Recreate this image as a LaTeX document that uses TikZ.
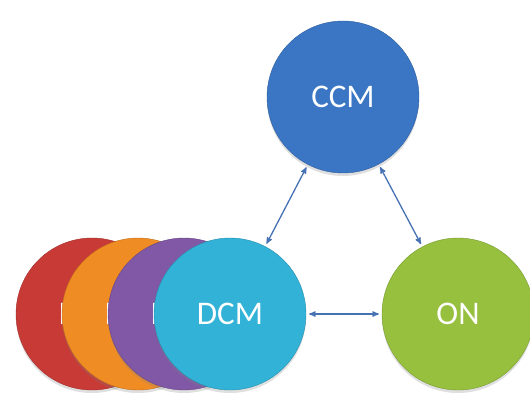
\documentclass[tikz,border=0pt]{standalone}
\usepackage{fontspec}
\setmainfont{Carlito}
\usepackage{tikz}
\usetikzlibrary{arrows,shapes,shadows}
\definecolor{cmblue}{RGB}{58,118,196}
\definecolor{cmcyan}{RGB}{50,178,214}
\definecolor{cmgreen}{RGB}{150,192,62}
\definecolor{cmred}{RGB}{200,58,54}
\definecolor{cmorange}{RGB}{240,140,36}
\definecolor{cmpurple}{RGB}{128,88,166}
\definecolor{cmline}{RGB}{70,114,180}
\tikzstyle{module} = [circle, minimum size=152pt, inner sep=0pt, text=white,
  font=\fontsize{33}{36}\selectfont,
  drop shadow={shadow xshift=0pt, shadow yshift=-3pt, opacity=0.25}]
\tikzstyle{link} = [line width=1.3pt,<->,>=stealth',color=cmline,shorten <=3pt,shorten >=3pt]

\begin{document}
\begin{tikzpicture}[x=1pt,y=-1pt]
\useasboundingbox (0,0) rectangle (530,392);

% Stack of DCM circles behind the front one
\node[module, fill=cmred, draw=cmred!80!black] (dcm1) at (92,314) {DCM};
\node[module, fill=cmorange, draw=cmorange!80!black] (dcm2) at (138,314) {DCM};
\node[module, fill=cmpurple, draw=cmpurple!80!black] (dcm3) at (184,314) {DCM};

% Front circles
\node[module, fill=cmcyan, draw=cmcyan!80!black] (dcm) at (230,314) {DCM};
\node[module, fill=cmblue, draw=cmblue!80!black] (ccm) at (343,97) {CCM};
\node[module, fill=cmgreen, draw=cmgreen!80!black] (on) at (458,314) {ON};

% Links
\draw[link] (ccm) -- (dcm);
\draw[link] (ccm) -- (on);
\draw[link] (dcm) -- (on);
\end{tikzpicture}
\end{document}
